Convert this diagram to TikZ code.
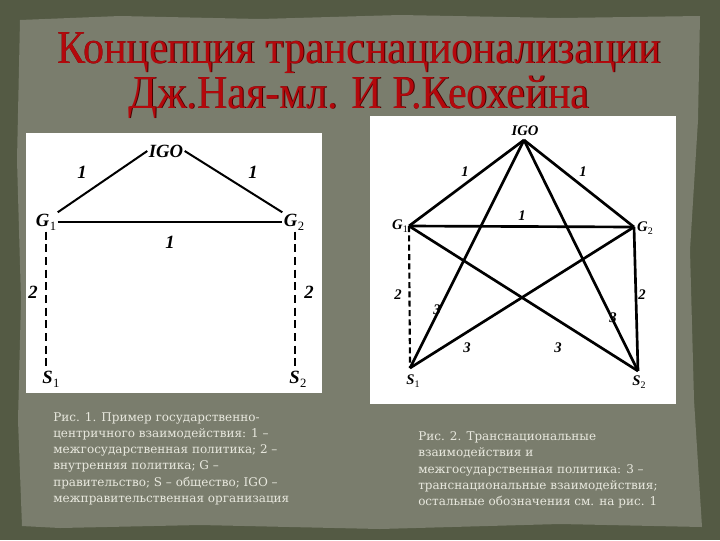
\documentclass[tikz,border=0pt]{standalone}
\usepackage{fontspec}
\usepackage{graphicx}
\setmainfont{Liberation Serif}
\newfontfamily\capfont{DejaVu Serif}
\definecolor{outerbg}{RGB}{84,90,68}
\definecolor{innerbg}{RGB}{122,125,109}
\definecolor{titlered}{RGB}{180,8,12}
\definecolor{titleshadow}{RGB}{70,0,0}
\definecolor{captext}{RGB}{232,232,222}
\newcommand\sbl[2]{#1\kern0.3pt\raisebox{-0.45ex}{\normalfont\fontsize{9.5}{9.5}\selectfont #2}}
\newcommand\sbr[2]{#1\kern0.2pt\raisebox{-0.45ex}{\normalfont\fontsize{7.5}{7.5}\selectfont #2}}
\newcommand\tall[1]{\scalebox{1}[1.12]{#1}}
\tikzset{
  titletxt/.style={text=titlered, font=\fontsize{31.6}{34}\selectfont, inner sep=0pt, anchor=base},
  titleshd/.style={text=titleshadow, font=\fontsize{31.6}{34}\selectfont, inner sep=0pt, anchor=base},
  captxt/.style={text=captext, font=\capfont\fontsize{9}{10}\selectfont, inner sep=0pt, anchor=base west},
  panel/.style={fill=white, draw=none},
  lblL/.style={font=\bfseries\itshape\fontsize{14}{14}\selectfont, inner sep=1pt},
  lblR/.style={font=\bfseries\itshape\fontsize{11}{11}\selectfont, inner sep=1pt},
  edgeL/.style={line width=1.5pt},
  edgeLthick/.style={line width=2.2pt},
  dashL/.style={line width=1.5pt, dash pattern=on 6pt off 3.5pt},
  edgeR/.style={line width=2pt},
  dashR/.style={line width=1.6pt, dash pattern=on 4.5pt off 2.5pt},
}
\begin{document}
\begin{tikzpicture}[x=0.75pt,y=-0.75pt]
\useasboundingbox (0,0) rectangle (720,540);
% background
\fill[outerbg] (0,0) rectangle (720,540);
\fill[innerbg] (20,20) -- (120,16) -- (260,19) -- (400,15) -- (560,18) -- (700,16)
  -- (698,120) -- (690,250) -- (694,400) -- (702,527) -- (560,524) -- (380,529)
  -- (200,525) -- (60,528) -- (22,526) -- (18,420) -- (21,300) -- (17,160) -- cycle;
% title
\node[titleshd] (t1s) at (359.8,63.8) {\tall{Концепция транснационализации}};
\node[titletxt] (t1) at (359,63) {\tall{Концепция транснационализации}};
\node[titleshd] (t2s) at (359.8,108.8) {\tall{Дж.Ная-мл. И Р.Кеохейна}};
\node[titletxt] (t2) at (359,108) {\tall{Дж.Ная-мл. И Р.Кеохейна}};
% panels
\fill[panel] (26,133) rectangle (322,393);
\fill[panel] (370,116) rectangle (676,404);
% left figure
\node[lblL] (igoL) at (166,151) {IGO};
\node[lblL] (g1L) at (46,222) {\sbl{G}{1}};
\node[lblL] (g2L) at (294,222) {\sbl{G}{2}};
\node[lblL] (s1L) at (51,379) {\sbl{S}{1}};
\node[lblL] (s2L) at (298,379) {\sbl{S}{2}};
\node[lblL] (a1) at (82,172) {1};
\node[lblL] (a2) at (253,172) {1};
\node[lblL] (a3) at (170,242) {1};
\node[lblL] (b1) at (33,292) {2};
\node[lblL] (b2) at (309,292) {2};
\draw[edgeL] (g1L.north east) -- (igoL.west);
\draw[edgeL] (igoL.east) -- (g2L.north west);
\draw[edgeLthick] (g1L.east) -- (g2L.west);
\draw[dashL] (g1L.south) -- (g1L.south |- s1L.north);
\draw[dashL] ([xshift=1pt]g2L.south) -- ([xshift=1pt]g2L.south |- s2L.north);
% right figure
\coordinate (vI) at (524,140);
\coordinate (vG1) at (409,226);
\coordinate (vG2) at (634,227);
\coordinate (vS1) at (410,368);
\coordinate (vS2) at (638,371);
\node[lblR] (igoR) at (525,131) {IGO};
\node[lblR] (g1R) at (400,226) {\sbr{G}{1}};
\node[lblR] (g2R) at (645,228) {\sbr{G}{2}};
\node[lblR] (s1R) at (413,381) {\sbr{S}{1}};
\node[lblR] (s2R) at (639,382) {\sbr{S}{2}};
\draw[edgeR] (vI) -- (vG1);
\draw[edgeR] (vI) -- (vG2);
\draw[edgeR] (vG1) -- (vG2);
\draw[dashR] (vG1) -- (vS1);
\draw[edgeR] (vG2) -- (vS2);
\draw[edgeR] (vI) -- (vS1);
\draw[edgeR] (vI) -- (vS2);
\draw[edgeR] (vG1) -- (vS2);
\draw[edgeR] (vG2) -- (vS1);
\node[lblR] (r1) at (465,172) {1};
\node[lblR] (r2) at (583,172) {1};
\node[lblR] (r3) at (522,216) {1};
\node[lblR] (r4) at (398,295) {2};
\node[lblR] (r5) at (642,295) {2};
\node[lblR] (r6) at (437,310) {3};
\node[lblR] (r7) at (613,318) {3};
\node[lblR] (r8) at (467,348) {3};
\node[lblR] (r9) at (558,348) {3};
% captions
\node[captxt] (cl1) at (53,421) {Рис. 1. Пример государственно-};
\node[captxt] (cl2) at (53,437) {центричного взаимодействия: 1 –};
\node[captxt] (cl3) at (53,453) {межгосударственная политика; 2 –};
\node[captxt] (cl4) at (53,469) {внутренняя политика; G –};
\node[captxt] (cl5) at (53,486) {правительство; S – общество; IGO –};
\node[captxt] (cl6) at (53,502) {межправительственная организация};
\node[captxt] (cr1) at (418,440) {Рис. 2. Транснациональные};
\node[captxt] (cr2) at (418,456) {взаимодействия и};
\node[captxt] (cr3) at (418,473) {межгосударственная политика: 3 –};
\node[captxt] (cr4) at (418,489) {транснациональные взаимодействия;};
\node[captxt] (cr5) at (418,505) {остальные обозначения см. на рис. 1};
\end{tikzpicture}
\end{document}
